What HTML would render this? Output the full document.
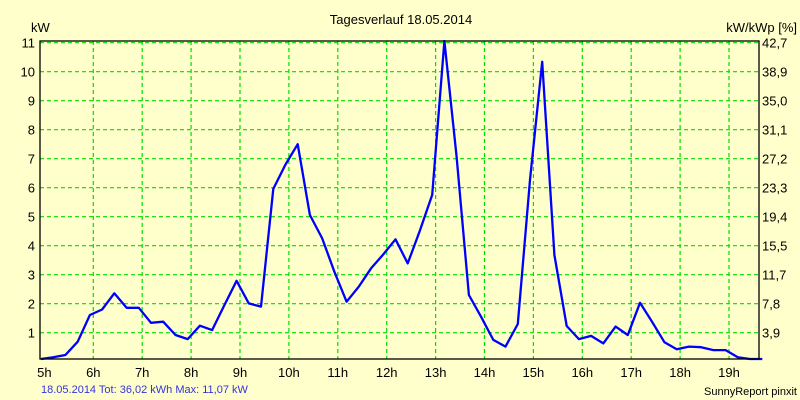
<!DOCTYPE html>
<html><head><meta charset="utf-8"><style>
html,body{margin:0;padding:0;background:#ffffcc;}
svg{display:block;font-family:"Liberation Sans",sans-serif;}
</style></head><body>
<svg id="chart" width="800" height="400" viewBox="0 0 800 400">
<rect x="0" y="0" width="800" height="400" fill="#ffffcc"/>
<text x="401" y="24" font-size="13" text-anchor="middle" fill="#000">Tagesverlauf 18.05.2014</text>
<text x="31" y="32" font-size="13" fill="#000">kW</text>
<text x="797" y="32" font-size="13" text-anchor="end" fill="#000">kW/kWp [%]</text>
<g id="grid"></g>
<g id="yticks"></g>
<g id="rticks"></g>
<g id="xticks"></g>
<path id="line" fill="none" stroke="#0000ff" stroke-width="2.3" stroke-linejoin="round"/>
<rect x="40" y="41" width="719" height="318" fill="none" stroke="#000" stroke-width="1.3"/>
<text x="41" y="393" font-size="11" fill="#3333dd">18.05.2014 Tot: 36,02 kWh Max: 11,07 kW</text>
<text x="797" y="395" font-size="11" text-anchor="end" fill="#000">SunnyReport pinxit</text>
</svg>
<script>
const hourLabels=["5h","6h","7h","8h","9h","10h","11h","12h","13h","14h","15h","16h","17h","18h","19h"];
const hourValues=[5,6,7,8,9,10,11,12,13,14,15,16,17,18,19];
const leftTicks=[1,2,3,4,5,6,7,8,9,10,11];
const rightTickLabels=["3,9","7,8","11,7","15,5","19,4","23,3","27,2","31,1","35,0","38,9","42,7"];
const startTime=4.93, stepHours=0.25;
const powerKW=[0.08,0.15,0.23,0.69,1.61,1.8,2.36,1.86,1.86,1.34,1.38,0.92,0.78,1.24,1.09,1.95,2.79,2.01,1.9,5.96,6.8,7.5,5.06,4.25,3.1,2.07,2.59,3.22,3.7,4.22,3.39,4.53,5.75,11.06,7.07,2.3,1.55,0.75,0.52,1.3,6.27,10.34,3.68,1.23,0.78,0.89,0.63,1.21,0.92,2.03,1.37,0.67,0.43,0.52,0.5,0.4,0.4,0.15,0.08,0.08];
const NS="http://www.w3.org/2000/svg";
const x=t=>44.4+(t-5)*48.9;
const y=v=>Math.min(359,361.7-v*29.0);
const grid=document.getElementById('grid'),yt=document.getElementById('yticks'),rt=document.getElementById('rticks'),xt=document.getElementById('xticks');
function mk(tag,attrs,parent,txt){const e=document.createElementNS(NS,tag);for(const k in attrs)e.setAttribute(k,attrs[k]);if(txt!==undefined)e.textContent=txt;parent.appendChild(e);return e;}
leftTicks.forEach((v,i)=>{
  const yy=361.7-v*29.0;
  const g=mk('line',{x1:40,x2:759,y1:yy,y2:yy,stroke:'#00dd00','stroke-width':1.2,'stroke-dasharray':'4,3'},grid);
  
  
  const l=mk('text',{x:35,y:yy+5,'font-size':13,'text-anchor':'end',fill:'#000'},yt,String(v));
  
  
  const r=mk('text',{x:762,y:yy+5,'font-size':13,fill:'#000'},rt,rightTickLabels[i]);
  
  
});
hourValues.forEach((h,i)=>{
  const xx=x(h);
  if(i>0){const g=mk('line',{x1:xx,x2:xx,y1:41,y2:359,stroke:'#00dd00','stroke-width':1.2,'stroke-dasharray':'4,3'},grid);
  
  }
  const l=mk('text',{x:xx,y:377,'font-size':13,'text-anchor':'middle',fill:'#000'},xt,hourLabels[i]);
  
  
});
document.getElementById('line').setAttribute('d',powerKW.map((v,i)=>(i?'L':'M')+x(startTime+i*stepHours).toFixed(1)+','+y(v).toFixed(1)).join(' '));
</script>
</body></html>
